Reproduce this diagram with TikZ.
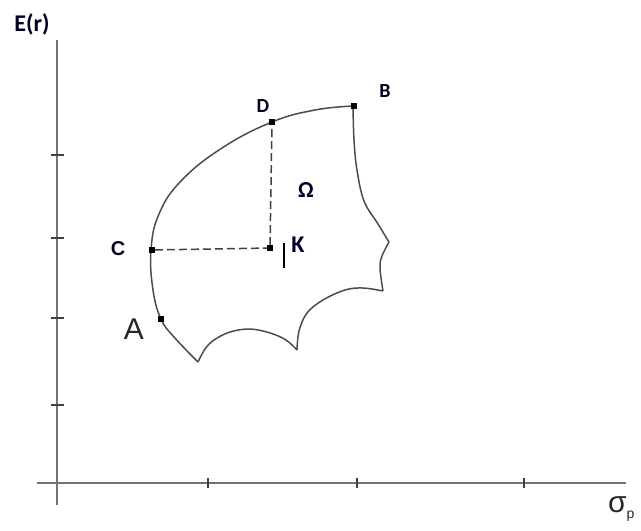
\documentclass[tikz,border=0pt]{standalone}
\usepackage{fontspec}
\setmainfont{Carlito}
\newfontfamily\arialf{Liberation Sans}
\begin{document}
\begin{tikzpicture}[x=1pt,y=-1pt,
  axisline/.style={draw=black!55,line width=2pt},
  tickline/.style={draw=black!75,line width=1.6pt},
  curveline/.style={draw=black!70,line width=1.5pt},
  dashline/.style={draw=black!75,line width=1.5pt,dash pattern=on 8pt off 4pt},
  ptbox/.style={rectangle,fill=black,minimum size=5.5pt,inner sep=0pt},
  lbl/.style={inner sep=0pt,text=black!85!blue}]
\useasboundingbox (0,0) rectangle (641,531);
% axes
\coordinate (ytop) at (57,40);
\coordinate (ybot) at (57,505);
\coordinate (xl) at (37,483);
\coordinate (xr) at (626,483);
\draw[axisline] (ybot) -- (ytop);
\draw[axisline] (xl) -- (xr);
\foreach \yy in {155,238,318,405} \draw[tickline] (51,\yy) -- (64,\yy);
\foreach \xx in {208,357,524} \draw[tickline] (\xx,478) -- (\xx,488);
% boundary
\draw[curveline] plot[smooth,tension=0.7] coordinates {(198,362) (174,337) (161,319) (153,290) (151,250) (159,214) (181,181) (222,148) (272,122) (315,110) (353,106)};
\draw[curveline] plot[smooth,tension=0.6] coordinates {(198,362) (205,349) (214,340) (230,332) (250,329) (270,333) (286,340) (297,350)};
\draw[curveline] plot[smooth,tension=0.6] coordinates {(297,350) (299,331) (307,313) (323,300) (345,290) (363,288) (383,291)};
\draw[curveline] plot[smooth,tension=0.6] coordinates {(383,291) (380,268) (382,256) (389,242)};
\draw[curveline] plot[smooth,tension=0.6] coordinates {(389,242) (378,224) (364,201) (357,170) (354,140) (353,106)};
% points
\node[ptbox] (A) at (161,319) {};
\node[ptbox] (C) at (152,250) {};
\node[ptbox] (D) at (272,122) {};
\node[ptbox] (B) at (354,106) {};
\node[ptbox] (K) at (270,248) {};
\draw[dashline] (C) -- (K);
\draw[dashline] (K) -- (D);
\coordinate (bart) at (284,243);
\coordinate (barb) at (284,268);
\draw[black,line width=2pt] (bart) -- (barb);
% labels
\node[lbl,font=\fontsize{24}{28}\selectfont\bfseries] (Elab) at (32,24) {E(r)};
\node[lbl,font=\fontsize{20}{24}\selectfont\bfseries] (Dlab) at (263,106) {D};
\node[lbl,font=\fontsize{20}{24}\selectfont\bfseries] (Blab) at (385,91) {B};
\node[lbl,font=\arialf\fontsize{20}{24}\selectfont\bfseries] (Clab) at (118,249) {C};
\node[lbl,font=\fontsize{24}{28}\selectfont\bfseries] (Klab) at (298,245) {K};
\node[lbl,font=\fontsize{23}{27}\selectfont\bfseries] (Olab) at (306,190) {Ω};
\node[inner sep=0pt,font=\arialf\fontsize{30}{34}\selectfont,text=black!85] (Alab) at (134,329) {A};
\node[inner sep=0pt,anchor=west,font=\arialf\fontsize{30}{34}\selectfont,text=black!85] (Slab) at (608,509) {σ\raisebox{-6pt}{\fontsize{14}{16}\selectfont p}};
\end{tikzpicture}
\end{document}
